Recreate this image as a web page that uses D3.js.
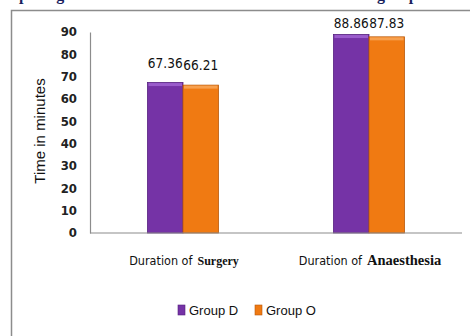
<!DOCTYPE html>
<html><head><meta charset="utf-8">
<script src="https://cdn.jsdelivr.net/npm/d3@7"></script>
<style>body{margin:0;background:#fff}svg{display:block}</style>
</head><body>
<script>
const categories = ["Surgery", "Anaesthesia"];
const series = ["Group D", "Group O"];
const groupD = [67.36, 88.86];
const groupO = [66.21, 87.83];
const yTicks = [0, 10, 20, 30, 40, 50, 60, 70, 80, 90];
const titleText = "Comparing the duration of anaesthesia between both the groups";
const colors = ["#7533A6", "#F07A12"];
const edges = ["#55207F", "#B8590A"];
const highlights = ["#9A5CCB", "#F7A04E"];

const W = 470, H = 336;
const svg = d3.select("body").append("svg").attr("width", W).attr("height", H);
const condensed = "DejaVu Sans Condensed, Liberation Sans Narrow, Arial Narrow, sans-serif";

// clipped title (only descenders visible, as in the reference)
svg.append("text").attr("x", -14).attr("y", 0)
  .attr("font-family", "Liberation Serif, Times New Roman, serif")
  .attr("font-weight", "bold").attr("font-size", 16).attr("fill", "#1B1F5E")
  .text(titleText);

// outer frame
svg.append("rect").attr("x", 11.5).attr("y", 10.5).attr("width", 480).attr("height", 400)
  .attr("fill", "none").attr("stroke", "#8C8C8C").attr("stroke-width", 1.5);

const x0 = d3.scaleBand().domain(categories).range([90, 462]).padding(0);
const x1 = d3.scaleBand().domain(series).range([0, x0.bandwidth()]).paddingInner(0).paddingOuter(1.62);
const y = d3.scaleLinear().domain([0, 90]).range([233, 32]);

const data = categories.map((c, i) => ({cat: c, vals: [
  {s: series[0], v: groupD[i], k: 0}, {s: series[1], v: groupO[i], k: 1}]}));

// y axis
const yAxis = svg.append("g").attr("transform", "translate(90,0)")
  .call(d3.axisLeft(y).tickValues(yTicks).tickSize(0).tickPadding(13));
yAxis.select(".domain").attr("stroke", "#8C8C8C").attr("stroke-width", 1.2);
yAxis.selectAll("text").attr("font-family", condensed).attr("font-weight", "bold")
  .attr("font-size", 13).attr("fill", "#222").attr("dy", "0.3em");

svg.append("text").attr("transform", "translate(45,131) rotate(-90)")
  .attr("text-anchor", "middle").attr("font-family", "Liberation Sans, Arial, sans-serif")
  .attr("font-size", 15).attr("fill", "#111").text("Time in minutes");

// bars
const g = svg.selectAll(".cat").data(data).join("g").attr("class", "cat")
  .attr("transform", d => `translate(${x0(d.cat)},0)`);
g.selectAll("rect.bar").data(d => d.vals).join("rect").attr("class", "bar")
  .attr("x", d => x1(d.s)).attr("width", x1.bandwidth())
  .attr("y", d => y(d.v)).attr("height", d => y(0) - y(d.v))
  .attr("fill", d => colors[d.k]).attr("stroke", d => edges[d.k]).attr("stroke-width", 0.8);
g.selectAll("rect.hl").data(d => d.vals).join("rect").attr("class", "hl")
  .attr("x", d => x1(d.s) + 1).attr("width", x1.bandwidth() - 2)
  .attr("y", d => y(d.v) + 0.5).attr("height", 3)
  .attr("fill", d => highlights[d.k]);
g.selectAll("text.val").data(d => d.vals).join("text").attr("class", "val")
  .attr("x", d => x1(d.s) + x1.bandwidth() / 2)
  .attr("y", d => Math.max(y(d.v) - 15, 28))
  .attr("text-anchor", "middle").attr("font-family", condensed)
  .attr("font-size", 13.5).attr("fill", "#111").text(d => d.v.toFixed(2));

// x axis line
svg.append("line").attr("x1", 90).attr("x2", 462).attr("y1", y(0)).attr("y2", y(0))
  .attr("stroke", "#8C8C8C").attr("stroke-width", 1.2);

// category labels: "Duration of" + category word, measured and centred together
const catSizes = {"Surgery": 12, "Anaesthesia": 14.5};
categories.forEach(c => {
  const cx = x0(c) + x0.bandwidth() / 2 + 1;
  const a = svg.append("text").attr("y", 265).attr("fill", "#111")
    .attr("font-family", condensed).attr("font-size", 12.5)
    .text("Duration of");
  const b = svg.append("text").attr("y", 265).attr("fill", "#111")
    .attr("font-family", "Liberation Serif, Times New Roman, serif")
    .attr("font-weight", "bold").attr("font-size", catSizes[c]).text(c);
  const wa = a.node().getComputedTextLength(), wb = b.node().getComputedTextLength();
  const gap = 5, start = cx - (wa + gap + wb) / 2;
  a.attr("x", start);
  b.attr("x", start + wa + gap);
});

// legend
const leg = svg.append("g").attr("transform", "translate(178,305)");
const li = leg.selectAll("g").data(series).join("g")
  .attr("transform", (d, i) => `translate(${i * 77},0)`);
li.append("rect").attr("width", 7).attr("height", 10)
  .attr("fill", (d, i) => colors[i]).attr("stroke", (d, i) => edges[i]).attr("stroke-width", 0.6);
li.append("text").attr("x", 11).attr("y", 10).attr("font-family", "Liberation Sans, Arial, sans-serif")
  .attr("font-size", 13).attr("fill", "#111").text(d => d);
</script>
</body></html>
